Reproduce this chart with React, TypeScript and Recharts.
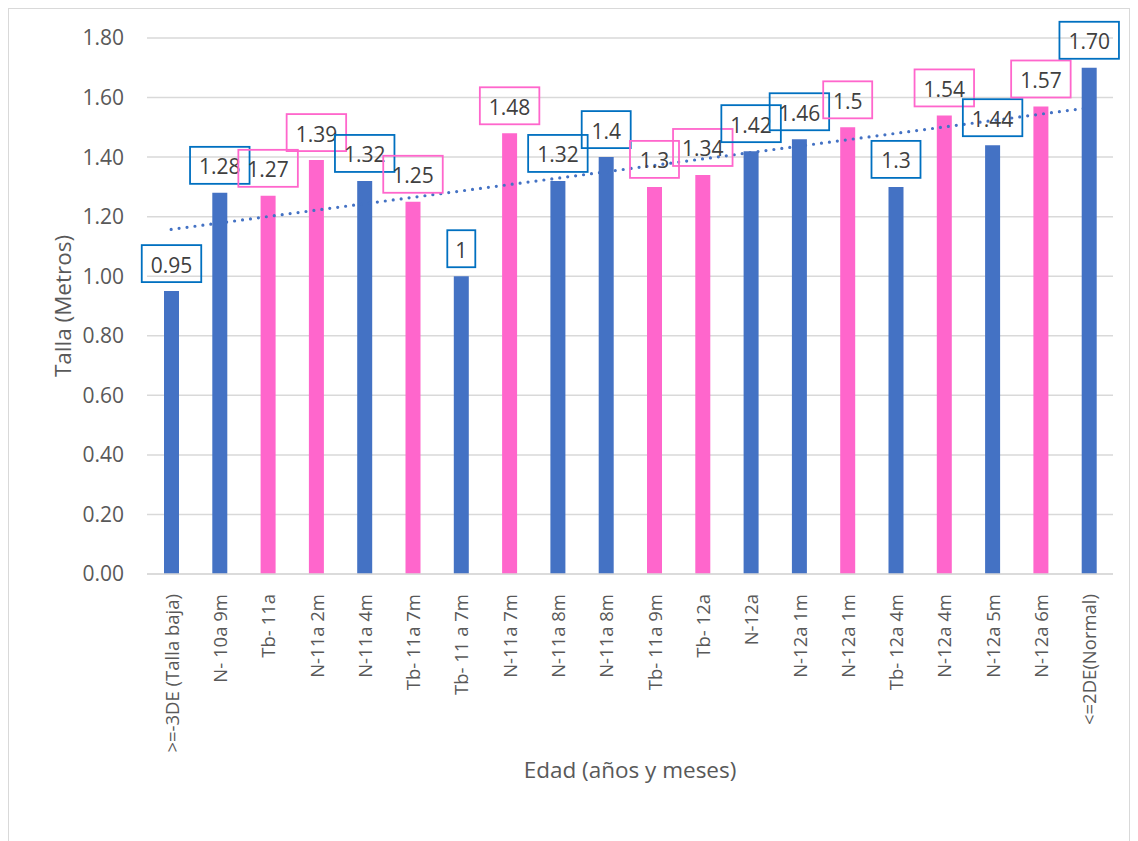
import React from "react";
import { ComposedChart, Bar, Line, XAxis, YAxis, CartesianGrid, Cell, LabelList } from "recharts";

const categories = [
  ">=-3DE (Talla baja)", "N- 10a 9m", "Tb- 11a", "N-11a 2m", "N-11a 4m", "Tb- 11a 7m", "Tb- 11 a 7m",
  "N-11a 7m", "N-11a 8m", "N-11a 8m", "Tb- 11a 9m", "Tb- 12a", "N-12a", "N-12a 1m", "N-12a 1m",
  "Tb- 12a 4m", "N-12a 4m", "N-12a 5m", "N-12a 6m", "<=2DE(Normal)",
];
const heights = [0.95, 1.28, 1.27, 1.39, 1.32, 1.25, 1.0, 1.48, 1.32, 1.4, 1.3, 1.34, 1.42, 1.46, 1.5, 1.3, 1.54, 1.44, 1.57, 1.7];
const valueLabels = ["0.95", "1.28", "1.27", "1.39", "1.32", "1.25", "1", "1.48", "1.32", "1.4", "1.3", "1.34", "1.42", "1.46", "1.5", "1.3", "1.54", "1.44", "1.57", "1.70"];
const groups = ["b", "b", "p", "p", "b", "p", "b", "p", "b", "b", "p", "p", "b", "b", "p", "b", "p", "b", "p", "b"];
const yTicks = [0, 0.2, 0.4, 0.6, 0.8, 1.0, 1.2, 1.4, 1.6, 1.8];

const BAR_COLORS: Record<string, string> = { b: "#4472C4", p: "#FF66CC" };
const BOX_COLORS: Record<string, string> = { b: "#0070C0", p: "#FF66CC" };
const FONT = "'Open Sans', sans-serif";

// least-squares linear trendline over the bar values (Excel "linear trendline")
const n = heights.length;
const xs = heights.map((_, i) => i + 1);
const mx = xs.reduce((a, b) => a + b, 0) / n;
const my = heights.reduce((a, b) => a + b, 0) / n;
const sxy = xs.reduce((a, x, i) => a + (x - mx) * (heights[i] - my), 0);
const sxx = xs.reduce((a, x) => a + (x - mx) * (x - mx), 0);
const slope = sxy / sxx;
const intercept = my - slope * mx;

const data = categories.map((c, i) => ({
  name: c,
  value: heights[i],
  label: valueLabels[i],
  group: groups[i],
  trend: intercept + slope * (i + 1),
}));

const XTick = (props: any) => {
  const { x, y, payload } = props;
  return (
    <text
      x={x}
      y={y + 12}
      transform={`rotate(-90, ${x}, ${y + 12})`}
      textAnchor="end"
      dominantBaseline="central"
      fill="#595959"
      fontSize={18.5}
      fontFamily={FONT}
    >
      {payload.value}
    </text>
  );
};

const BoxLabel = (props: any) => {
  const { x, y, width, index } = props;
  const d = data[index];
  const text = d.label;
  const w = 28 + (text.length - 1) * 10.5;
  const h = 37;
  const cx = x + width / 2;
  const bottom = y - 9;
  return (
    <g>
      <rect x={cx - w / 2} y={bottom - h} width={w} height={h} fill="none" stroke={BOX_COLORS[d.group]} strokeWidth={1.8} />
      <text x={cx} y={bottom - h / 2 + 1} textAnchor="middle" dominantBaseline="central" fill="#404040" fontSize={21} fontFamily={FONT}>
        {text}
      </text>
    </g>
  );
};

export default function App() {
  return (
    <div>
      <div
        style={{
          position: "absolute",
          left: 8,
          top: 8,
          width: 1122,
          height: 833,
          boxSizing: "border-box",
          border: "1px solid #d9d9d9",
          borderBottom: "none",
          background: "#fff",
        }}
      />
      <div style={{ position: "absolute", left: 0, top: 0 }}>
        <ComposedChart
          width={1138}
          height={841}
          data={data}
          margin={{ top: 38, right: 25, bottom: 57, left: 0 }}
          barCategoryGap={0}
        >
          <CartesianGrid vertical={false} stroke="#d9d9d9" strokeWidth={1.5} />
          <XAxis
            dataKey="name"
            interval={0}
            tickLine={false}
            axisLine={{ stroke: "#d9d9d9", strokeWidth: 1.5 }}
            tick={<XTick />}
            height={210}
            label={{ value: "Edad (años y meses)", position: "insideBottom", offset: 6, fill: "#595959", fontSize: 22.5, fontFamily: FONT }}
          />
          <YAxis
            domain={[0, 1.8]}
            ticks={yTicks}
            width={147}
            tickLine={false}
            tickSize={0}
            tickMargin={23}
            axisLine={false}
            tickFormatter={(v: number) => v.toFixed(2)}
            tick={{ fill: "#595959", fontSize: 21, fontFamily: FONT }}
            label={{
              value: "Talla (Metros)",
              angle: -90,
              position: "insideLeft",
              offset: 63,
              style: { textAnchor: "middle" },
              fill: "#595959",
              fontSize: 22.5,
              fontFamily: FONT,
            }}
          />
          <Bar dataKey="value" barSize={15} isAnimationActive={false}>
            {data.map((d, i) => (
              <Cell key={i} fill={BAR_COLORS[d.group]} />
            ))}
            <LabelList dataKey="label" content={<BoxLabel />} />
          </Bar>
          <Line
            dataKey="trend"
            stroke="#4472C4"
            strokeWidth={3.2}
            strokeDasharray="0 8"
            strokeLinecap="round"
            dot={false}
            activeDot={false}
            isAnimationActive={false}
          />
        </ComposedChart>
      </div>
    </div>
  );
}
